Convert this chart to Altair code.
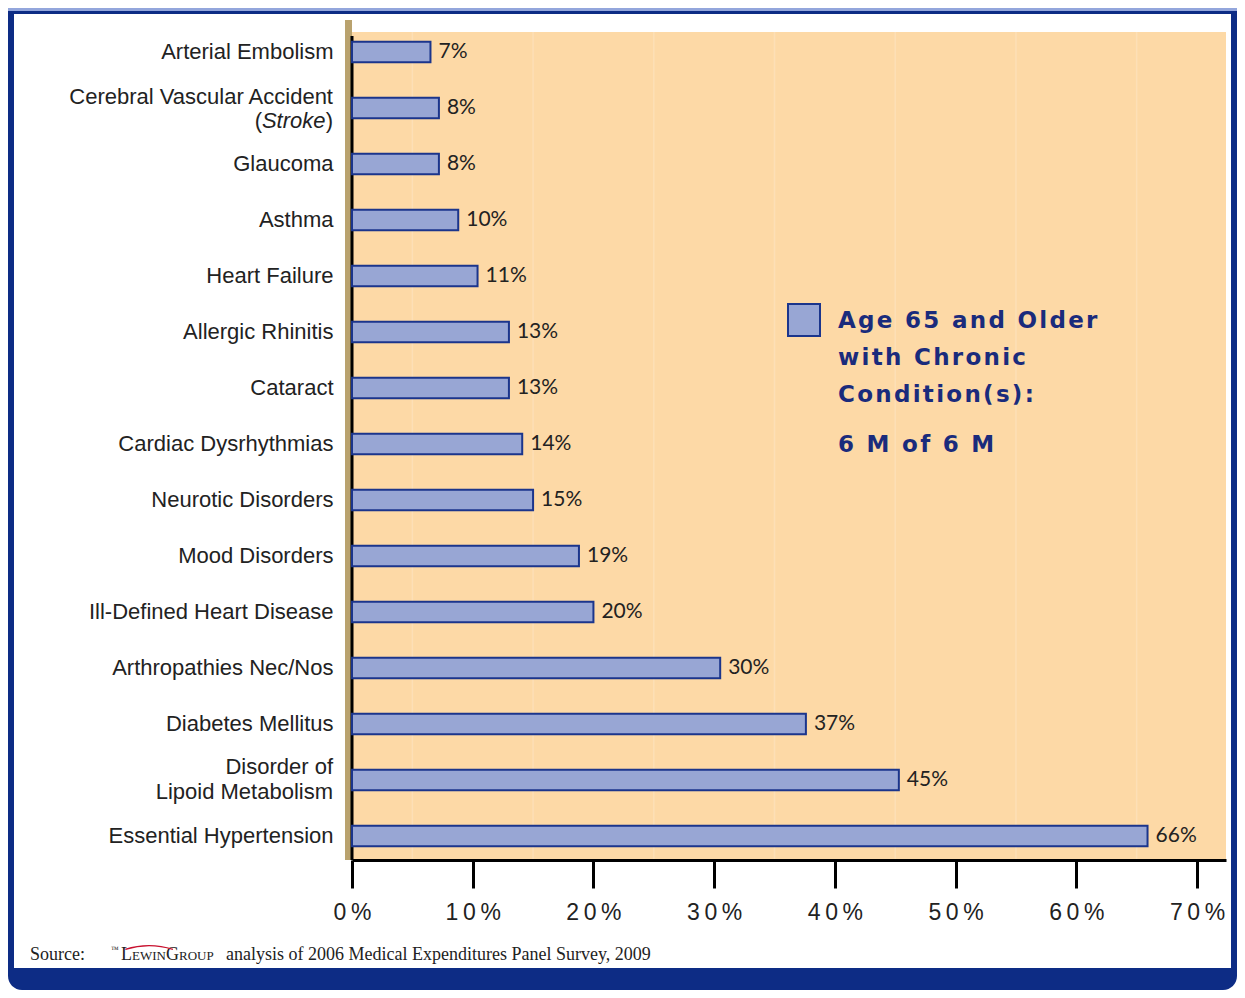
import altair as alt
import pandas as pd

# ---------------- data ----------------
conditions = [
    "Arterial Embolism",
    "Cerebral Vascular Accident|(Stroke)",
    "Glaucoma",
    "Asthma",
    "Heart Failure",
    "Allergic Rhinitis",
    "Cataract",
    "Cardiac Dysrhythmias",
    "Neurotic Disorders",
    "Mood Disorders",
    "Ill-Defined Heart Disease",
    "Arthropathies Nec/Nos",
    "Diabetes Mellitus",
    "Disorder of |Lipoid Metabolism",
    "Essential Hypertension",
]
values = [6.5, 7.2, 7.2, 8.8, 10.4, 13.0, 13.0, 14.1, 15.0, 18.8, 20.0, 30.5, 37.6, 45.3, 65.9]
value_labels = ["7%", "8%", "8%", "10%", "11%", "13%", "13%", "14%", "15%", "19%",
                "20%", "30%", "37%", "45%", "66%"]
tick_values = [0, 10, 20, 30, 40, 50, 60, 70]
grid_values = [5, 15, 25, 35, 45, 55, 65]
legend_lines = ["Age 65 and Older", "with Chronic", "Condition(s):", "6 M of 6 M"]
source_prefix = "Source:"
source_text = "analysis of 2006 Medical Expenditures Panel Survey, 2009"

# ---------------- style ----------------
W, H = 874, 828
NAVY = "#0d2c85"
BAR_FILL = "#98a6d4"
BAR_STROKE = "#1b358c"
PEACH = "#fdd9a6"
TXT = "#222222"
HAIR = "\u200a"
THIN = "\u2009"

df = pd.DataFrame({"cond": conditions, "value": values, "label": value_labels})
one = pd.DataFrame({"k": [0]})

xscale = alt.Scale(domain=[0, 72.4], nice=False, zero=True)
yscale = alt.Scale(domain=conditions, range=[-8, 832], paddingInner=0.63, paddingOuter=0.315)

xaxis = alt.Axis(
    values=tick_values, title=None, grid=False, zindex=1,
    labelExpr=f"join(split(format(datum.value, 'd') + '%', ''), '{THIN}')",
    domainColor="black", domainWidth=3, tickColor="black", tickWidth=3, tickSize=28,
    labelFont="Liberation Sans", labelFontSize=23, labelColor=TXT, labelPadding=13,
    labelFlush=False, labelOverlap=False,
)
# multi-line labels are drawn by text layers below
yaxis = alt.Axis(
    title=None, domain=False, ticks=False, tickSize=0, zindex=1,
    labelExpr="indexof(datum.label, '|') >= 0 ? '' : datum.label",
    labelFont="Liberation Sans", labelFontSize=22, labelColor=TXT, labelPadding=19,
    labelLimit=400,
)

def box(x, x2, y, y2, **kw):
    return alt.Chart(one).mark_rect(**kw).encode(
        x=alt.value(x), x2=alt.value(x2), y=alt.value(y), y2=alt.value(y2))

frame = box(-344, 885, -24, 958, fill=NAVY, cornerRadiusBottomLeft=14, cornerRadiusBottomRight=14)
strip = box(-344, 885, -24, -21, fill="#93a6dc")
white = box(-338, 879, -18, 936, fill="white")
peach = box(0, W, 0, H, fill=PEACH)
tan = box(-7, 0, -12, H, fill="#b9a26e")

grid = alt.Chart(pd.DataFrame({"g": grid_values})).mark_rule(
    color="#fddfb6", strokeWidth=1.5).encode(
    x=alt.X("g:Q", scale=xscale, axis=xaxis), y=alt.value(0), y2=alt.value(H))

left_line = alt.Chart(one).mark_rule(color="black", strokeWidth=3).encode(
    x=alt.value(0), y=alt.value(4), y2=alt.value(H))

bars = alt.Chart(df).mark_bar(fill=BAR_FILL, stroke=BAR_STROKE, strokeWidth=2).encode(
    x=alt.X("value:Q", scale=xscale, axis=xaxis),
    y=alt.Y("cond:N", scale=yscale, axis=yaxis, sort=conditions),
)
bar_text = alt.Chart(df).mark_text(
    align="left", baseline="middle", dx=8, font="Lato", fontSize=21, color=TXT).encode(
    x=alt.X("value:Q", scale=xscale, axis=xaxis),
    y=alt.Y("cond:N", scale=yscale, axis=yaxis, sort=conditions),
    text="label:N",
)

# Two-line category labels
def label_piece(cond, txt, x, dy, italic=False):
    return alt.Chart(pd.DataFrame({"cond": [cond]})).mark_text(
        align="right", baseline="middle", dy=dy, font="Liberation Sans", fontSize=22,
        color=TXT, fontStyle="italic" if italic else "normal").encode(
        y=alt.Y("cond:N", scale=yscale, axis=yaxis, sort=conditions),
        x=alt.value(x), text=alt.value(txt))

cva = conditions[1]
lipid = conditions[13]
multi_lbl = [
    label_piece(cva, cva.split("|")[0], -19, -11),
    label_piece(cva, ")", -19, 13),
    label_piece(cva, "Stroke", -26.5, 13, True),
    label_piece(cva, "(", -90, 13),
    label_piece(lipid, lipid.split("|")[0], -19, -13),
    label_piece(lipid, lipid.split("|")[1], -19, 12),
]

# legend
swatch = box(436, 468, 272, 304, fill=BAR_FILL, stroke=BAR_STROKE, strokeWidth=2)
legend_y = [289, 326, 363, 413]
legend_layers = [
    alt.Chart(one).mark_text(align="left", baseline="middle", font="DejaVu Sans",
                             fontWeight="bold", fontSize=23, color="#1a2b7c").encode(
        x=alt.value(486), y=alt.value(yy), text=alt.value(HAIR.join(line)))
    for line, yy in zip(legend_lines, legend_y)
]

# source line
def stext(txt, x, size=18, dy=0, **kw):
    return alt.Chart(one).mark_text(align="left", baseline="middle", font="Liberation Serif",
                                    fontSize=size, color=TXT, dy=dy, **kw).encode(
        x=alt.value(x), y=alt.value(923), text=alt.value(txt))

source = [
    stext(source_prefix, -322),
    stext("\u2122", -241, size=8, dy=-5),
    stext("L", -231, size=18),
    stext("EWIN", -220, size=13, dy=1),
    stext("G", -186, size=18),
    stext("ROUP", -173, size=13, dy=1),
    stext(source_text, -126),
]
arc = alt.Chart(one).mark_arc(radius=80, radius2=78.6, theta=5.98, theta2=6.59,
                              color="#c8102e").encode(x=alt.value(-203), y=alt.value(993))

chart = alt.layer(
    frame, strip, white, peach, tan, grid, left_line, bars, bar_text, *multi_lbl,
    swatch, *legend_layers, *source, arc,
).properties(
    width=W, height=H,
    padding={"left": 344, "top": 24, "right": 11, "bottom": 130},
    autosize=alt.AutoSizeParams(type="none"),
).configure(background="white").configure_view(stroke=None)

chart.save("out.html", embed_options={"renderer": "svg", "actions": False})
